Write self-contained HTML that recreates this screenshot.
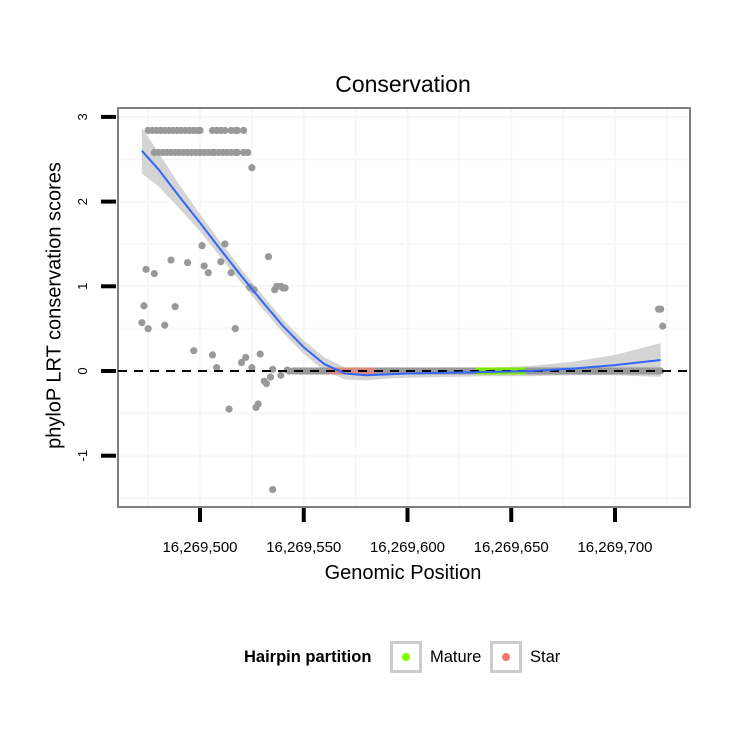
<!DOCTYPE html>
<html><head><meta charset="utf-8"><style>
body{margin:0;background:#fff;font-family:"Liberation Sans",sans-serif}
svg text{font-family:"Liberation Sans",sans-serif}
</style></head><body>
<svg id="c" width="750" height="750" xmlns="http://www.w3.org/2000/svg"></svg>
<script>
const xTicks=[16269500,16269550,16269600,16269650,16269700];
const xTickLabels=["16,269,500","16,269,550","16,269,600","16,269,650","16,269,700"];
const yTicks=[-1,0,1,2,3];
const yTickLabels=["-1","0","1","2","3"];
const scatterPos=[475,477,479,481,483,485,487,489,491,493,495,497,499,500,506,508,510,512,515,517,518,521,
478,480,482,484,486,488,490,492,494,496,498,500,502,504,506,507,509,511,513,515,517,518,521,523,525,
472,473,474,475,478,483,486,488,494,497,501,502,504,506,508,510,512,514,515,517,520,522,524,525,526,527,528,529,531,532,533,534,535,535,536,537,539,539,540,541,542,543,721,722,723];
const scatterScore=[2.84,2.84,2.84,2.84,2.84,2.84,2.84,2.84,2.84,2.84,2.84,2.84,2.84,2.84,2.84,2.84,2.84,2.84,2.84,2.84,2.84,2.84,
2.58,2.58,2.58,2.58,2.58,2.58,2.58,2.58,2.58,2.58,2.58,2.58,2.58,2.58,2.58,2.58,2.58,2.58,2.58,2.58,2.58,2.58,2.58,2.58,2.4,
0.57,0.77,1.2,0.5,1.15,0.54,1.31,0.76,1.28,0.24,1.48,1.24,1.16,0.19,0.04,1.29,1.5,-0.45,1.16,0.5,0.1,0.16,0.99,0.04,0.96,-0.43,-0.39,0.2,-0.12,-0.15,1.35,-0.07,-1.4,0.02,0.96,1.0,-0.05,1.0,0.98,0.98,0.01,0.0,0.73,0.73,0.53];
const zeroRunStart=545, zeroRunEnd=722;
const matureStart=634, matureEnd=657;
const starStart=563, starEnd=585;
const fitPos=[472,480,490,500,510,520,530,540,550,560,570,580,590,600,620,640,660,680,700,722];
const fitVal=[2.6,2.38,2.06,1.75,1.43,1.12,0.82,0.53,0.28,0.08,-0.03,-0.05,-0.04,-0.03,-0.02,-0.01,0.0,0.03,0.07,0.13];
const fitSe=[0.27,0.2,0.14,0.1,0.09,0.08,0.08,0.08,0.08,0.08,0.07,0.06,0.05,0.05,0.05,0.05,0.06,0.08,0.12,0.2];

const NS="http://www.w3.org/2000/svg", svg=document.getElementById('c');
const L=118,R=690,T=108,B=507;
const X=p=>200+((p>16000000?p-16269000:p)-500)*2.075;
const Y=v=>371-v*84.7;
function mk(tag,a,parent){const e=document.createElementNS(NS,tag);for(const k in a)e.setAttribute(k,a[k]);(parent||svg).appendChild(e);return e;}
const panel=mk('rect',{x:L,y:T,width:R-L,height:B-T,fill:'#fff',stroke:'#7f7f7f','stroke-width':2});


const grid=mk('g',{stroke:'#f7f7f7','stroke-width':2});


for(let t=16269475;t<=16269725;t+=25){mk('line',{x1:X(t),x2:X(t),y1:T+1,y2:B-1},grid);}
for(let v=-1.5;v<=3;v+=0.5){mk('line',{x1:L+1,x2:R-1,y1:Y(v),y2:Y(v)},grid);}
let up=fitPos.map((p,i)=>X(p)+','+Y(fitVal[i]+fitSe[i]));
let dn=fitPos.map((p,i)=>X(p)+','+Y(fitVal[i]-fitSe[i])).reverse();
const rib=mk('polygon',{points:up.concat(dn).join(' '),fill:'#d4d4d4'});


const pts=mk('g',{fill:'#999'});


for(let p=zeroRunStart;p<=zeroRunEnd;p++){
  let col='#999';
  if(p>=matureStart&&p<=matureEnd)col='#7fe600';
  else if(p>=starStart&&p<=starEnd)col='#d98a80';
  const c=mk('circle',{cx:X(p),cy:Y(0),r:3.6,fill:col},pts);
  
  
}
scatterPos.forEach((p,i)=>{const c=mk('circle',{cx:X(p),cy:Y(scatterScore[i]),r:3.6},pts);
  
  });
const dash=mk('line',{x1:L,x2:R,y1:Y(0),y2:Y(0),stroke:'#000','stroke-width':2,'stroke-dasharray':'9,7'});


const fit=mk('polyline',{points:fitPos.map((p,i)=>X(p)+','+Y(fitVal[i])).join(' '),fill:'none',stroke:'#3366ff','stroke-width':2});


xTicks.forEach((t,i)=>{
  const l=mk('line',{x1:X(t),x2:X(t),y1:508,y2:522,stroke:'#000','stroke-width':4});
  
  
  const tx=mk('text',{x:X(t),y:552,'font-size':15,'text-anchor':'middle'});tx.textContent=xTickLabels[i];
  
  
});
yTicks.forEach((v,i)=>{
  const l=mk('line',{x1:101,x2:116,y1:Y(v),y2:Y(v),stroke:'#000','stroke-width':4});
  
  
  const tx=mk('text',{x:0,y:0,'font-size':13,'text-anchor':'middle',transform:`translate(87,${Y(v)}) rotate(-90)`});tx.textContent=yTickLabels[i];
  
  
});
</script>
<div style="position:absolute;left:0;top:0;width:750px;height:750px;pointer-events:none">
<div style="position:absolute;left:0;width:806px;top:71px;text-align:center;font-size:23px">Conservation</div>
<div style="position:absolute;left:0;width:806px;top:562px;text-align:center;font-size:20px">Genomic Position</div>
<div style="position:absolute;left:-145px;width:400px;top:294px;text-align:center;font-size:20px;transform:rotate(-90deg)">phyloP LRT conservation scores</div>
<div style="position:absolute;left:244px;top:640px;height:34px;font-size:16.5px">
<span style="position:absolute;left:0;top:8px;font-weight:bold;white-space:nowrap">Hairpin partition</span>
<div style="position:absolute;left:146px;top:1px;width:26px;height:26px;border:3px solid #ccc;background:#fff"><div style="position:absolute;left:9px;top:9px;width:8px;height:8px;border-radius:50%;background:#80ff00"></div></div>
<span style="position:absolute;left:186px;top:8px">Mature</span>
<div style="position:absolute;left:246px;top:1px;width:26px;height:26px;border:3px solid #ccc;background:#fff"><div style="position:absolute;left:9px;top:9px;width:8px;height:8px;border-radius:50%;background:#f8766d"></div></div>
<span style="position:absolute;left:286px;top:8px">Star</span>
</div>
</div>
</body></html>
